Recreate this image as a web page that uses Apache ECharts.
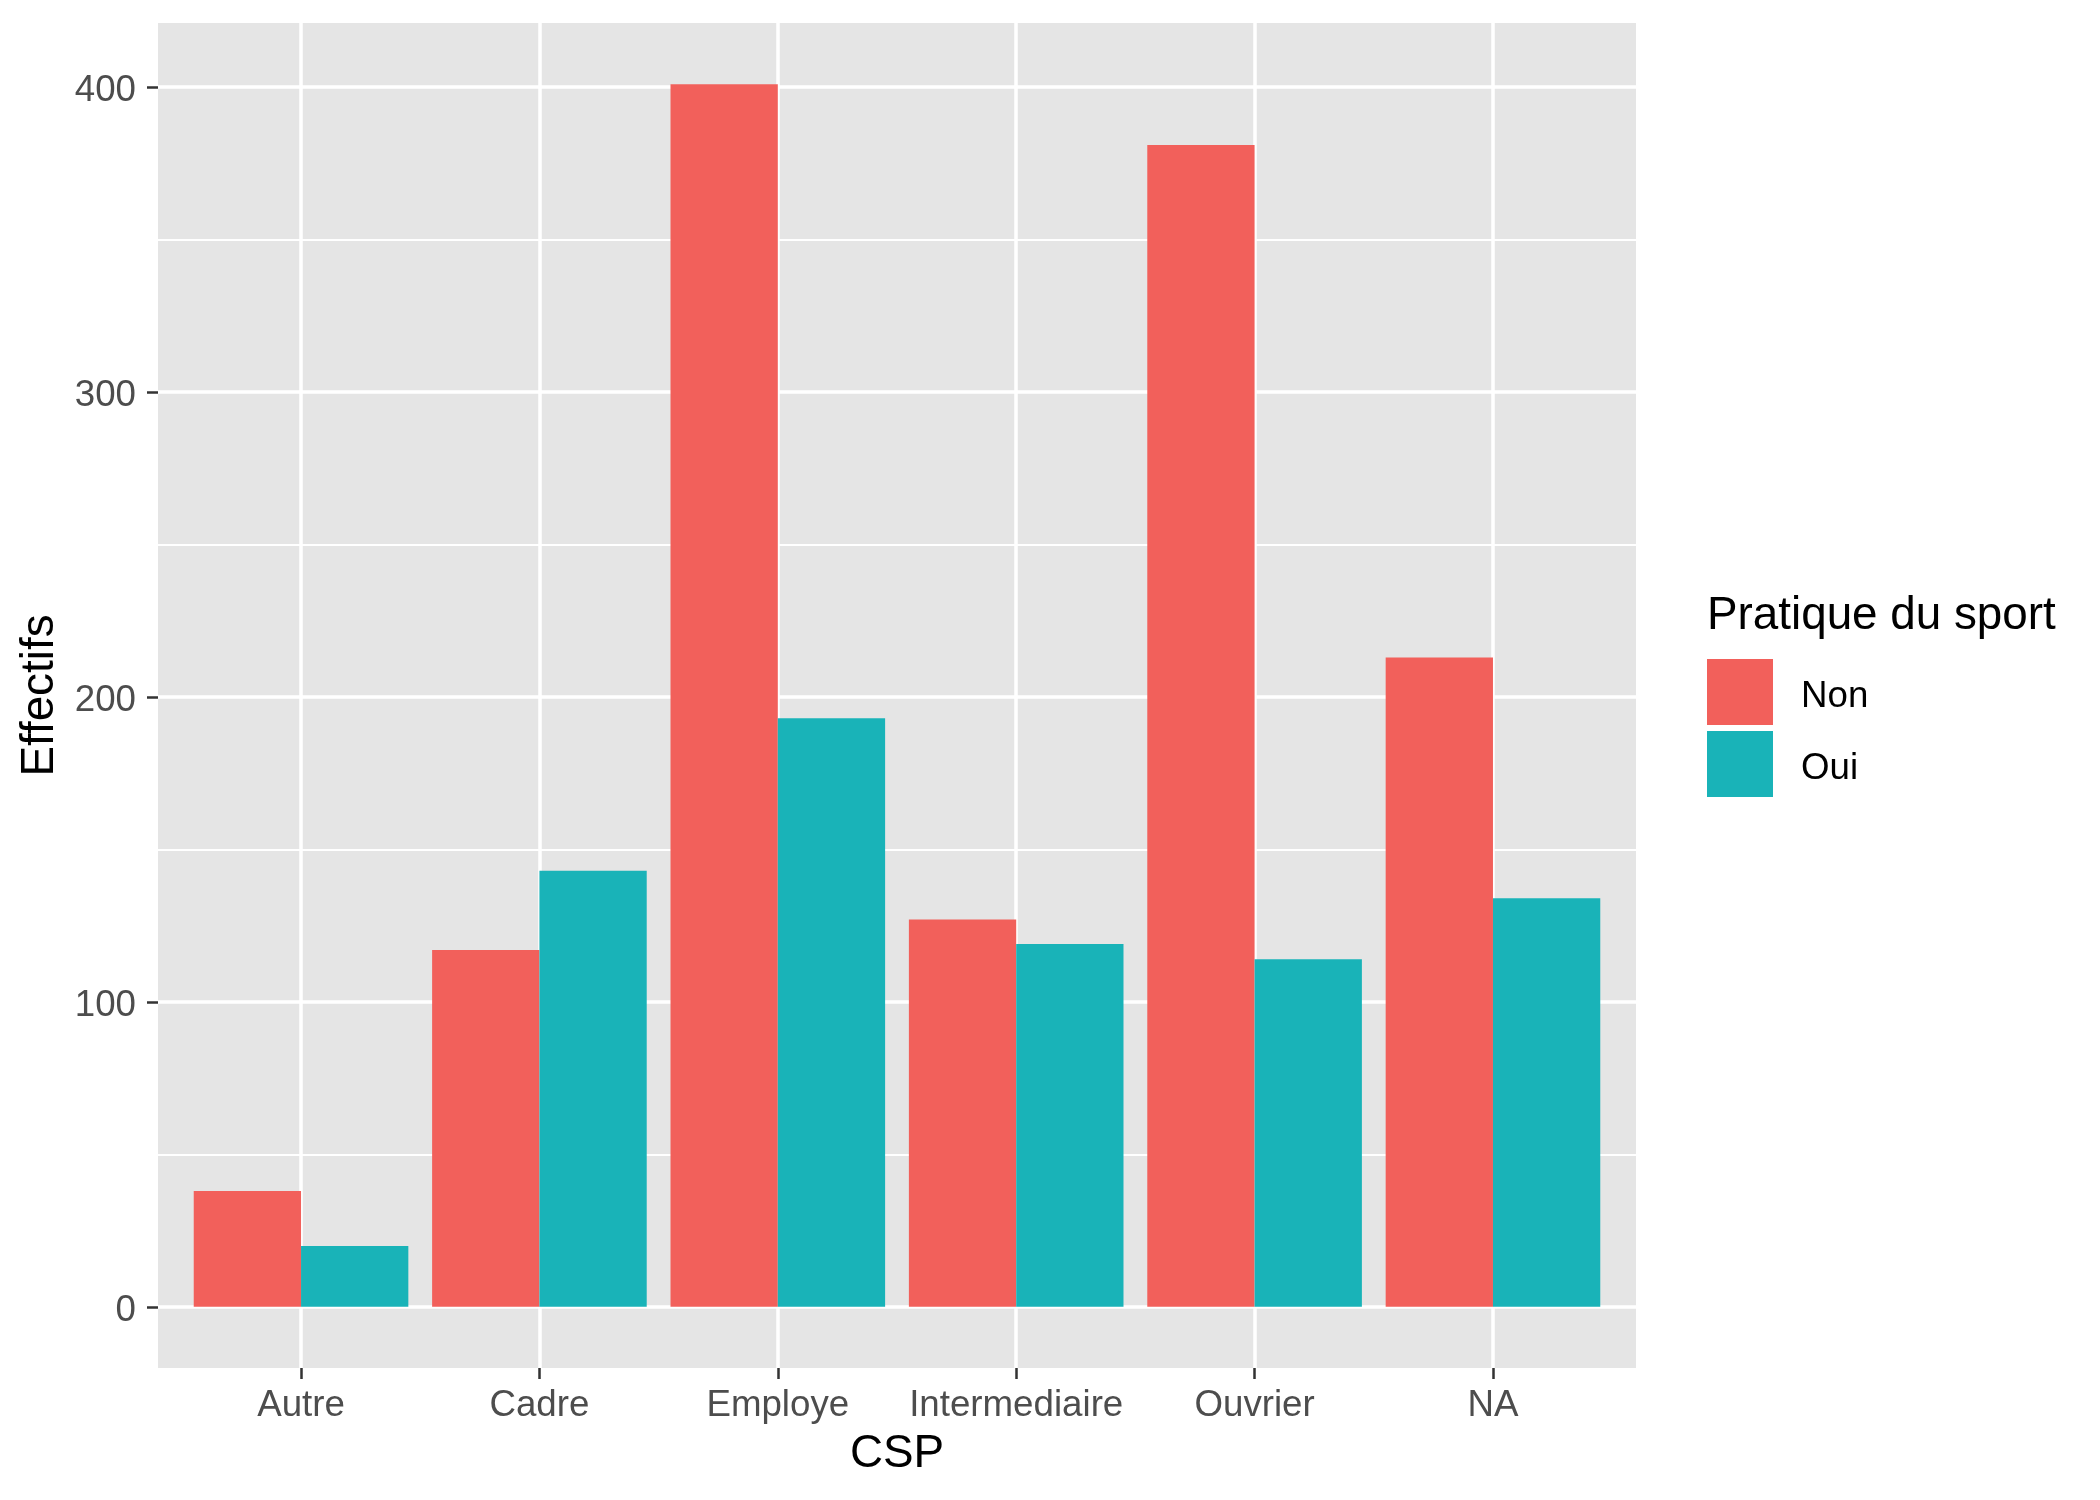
<!DOCTYPE html>
<html>
<head>
<meta charset="utf-8">
<title>CSP - Pratique du sport</title>
<script src="https://cdn.jsdelivr.net/npm/echarts@6.0.0/dist/echarts.min.js"></script>
<style>
  html, body { margin: 0; padding: 0; background: #fff; }
  #chart { width: 2100px; height: 1500px; }
</style>
</head>
<body>
<div id="chart"></div>
<script>
// data
const categories = ['Autre', 'Cadre', 'Employe', 'Intermediaire', 'Ouvrier', 'NA'];
const nonValues = [38, 117, 401, 127, 381, 213];
const ouiValues = [20, 143, 193, 119, 114, 134];
const yTicks = [0, 100, 200, 300, 400];
const yMinorTicks = [50, 150, 250, 350];

const font = '"Liberation Sans", Arial, Helvetica, sans-serif';
const colors = ['#F2605B', '#19B3B8'];

// categories on a numeric axis so the panel can keep ggplot's 0.6 padding
const xPos = categories.map((c, i) => i);

const gridLines = []
  .concat(yTicks.map(v => ({ yAxis: v, lineStyle: { width: 3.5 } })))
  .concat(yMinorTicks.map(v => ({ yAxis: v, lineStyle: { width: 1.8 } })))
  .concat(xPos.map(v => ({ xAxis: v, lineStyle: { width: 3.5 } })));

const myChart = echarts.init(document.getElementById('chart'));
myChart.setOption({
  animation: false,
  textStyle: { fontFamily: font },
  grid: {
    left: 158,
    top: 23,
    width: 1478,
    height: 1345,
    show: true,
    backgroundColor: '#E5E5E5',
    borderWidth: 0
  },
  legend: {
    data: ['Non', 'Oui'],
    orient: 'vertical',
    left: 1707,
    top: 659,
    padding: 0,
    icon: 'rect',
    itemWidth: 66,
    itemHeight: 66,
    itemGap: 6,
    selectedMode: false,
    formatter: name => '{t|' + name + '}',
    textStyle: {
      fontSize: 36.7,
      color: '#000',
      fontFamily: font,
      padding: [0, 0, 0, 23],
      rich: {
        t: { fontSize: 36.7, color: '#000', fontFamily: font, padding: [10, 0, 0, 0] }
      }
    }
  },
  graphic: [
    {
      type: 'text',
      left: 1707,
      top: 593,
      style: {
        text: 'Pratique du sport',
        font: '45.8px ' + font,
        fill: '#000'
      }
    }
  ],
  xAxis: {
    type: 'value',
    min: -0.6,
    max: 5.6,
    name: 'CSP',
    nameLocation: 'middle',
    nameGap: 63,
    nameTextStyle: { fontSize: 45.8, color: '#000', fontFamily: font },
    axisLine: { show: false, onZero: false },
    axisTick: {
      show: true,
      length: 11,
      customValues: xPos,
      lineStyle: { color: '#333333', width: 2.5 }
    },
    axisLabel: {
      customValues: xPos,
      margin: 19,
      fontSize: 36.7,
      color: '#4D4D4D',
      fontFamily: font,
      formatter: v => categories[Math.round(v)]
    },
    splitLine: { show: false }
  },
  yAxis: {
    type: 'value',
    min: -20.05,
    max: 421.05,
    name: 'Effectifs',
    nameLocation: 'middle',
    nameGap: 95,
    nameRotate: 90,
    nameTextStyle: { fontSize: 45.8, color: '#000', fontFamily: font },
    axisLine: { show: false, onZero: false },
    axisTick: {
      show: true,
      length: 11,
      customValues: yTicks,
      lineStyle: { color: '#333333', width: 2.5 }
    },
    axisLabel: {
      customValues: yTicks,
      margin: 22,
      fontSize: 36.7,
      color: '#4D4D4D',
      fontFamily: font,
      formatter: v => '{t|' + v + '}',
      rich: {
        t: { fontSize: 36.7, color: '#4D4D4D', fontFamily: font, padding: [8, 0, 0, 0] }
      }
    },
    splitLine: { show: false }
  },
  series: [
    {
      name: 'grid',
      type: 'line',
      data: [],
      z: 1,
      silent: true,
      markLine: {
        z: 1,
        silent: true,
        symbol: 'none',
        label: { show: false },
        emphasis: { disabled: true },
        lineStyle: { color: '#FFFFFF', type: 'solid' },
        data: gridLines
      }
    },
    {
      name: 'Non',
      type: 'bar',
      z: 2,
      barWidth: 107.3,
      barGap: '0%',
      itemStyle: { color: colors[0] },
      data: xPos.map((x, i) => [x, nonValues[i]])
    },
    {
      name: 'Oui',
      type: 'bar',
      z: 2,
      barWidth: 107.3,
      barGap: '0%',
      itemStyle: { color: colors[1] },
      data: xPos.map((x, i) => [x, ouiValues[i]])
    }
  ]
});
</script>
</body>
</html>
